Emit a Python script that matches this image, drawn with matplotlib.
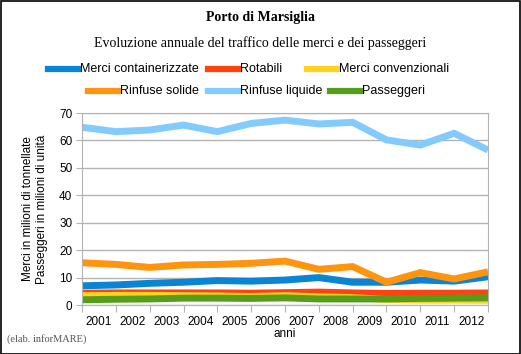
import matplotlib
matplotlib.use("Agg")
import matplotlib.pyplot as plt
from matplotlib.lines import Line2D
from matplotlib.patches import Rectangle

# Dati (13 punti, etichette 2001-2012 fra le tacche)
anni = ["2001", "2002", "2003", "2004", "2005", "2006",
        "2007", "2008", "2009", "2010", "2011", "2012"]
container = [7.0, 7.3, 7.9, 8.3, 8.9, 8.7, 9.1, 10.0, 8.3, 8.3, 9.1, 8.7, 10.3]
rotabili = [4.3, 4.4, 4.4, 4.4, 4.4, 4.3, 4.5, 4.7, 4.4, 4.2, 4.3, 4.3, 4.4]
convenzionali = [3.4, 3.5, 3.5, 3.4, 3.3, 3.1, 3.4, 3.0, 2.7, 2.0, 1.8, 1.8, 1.7]
solide = [15.4, 14.8, 13.7, 14.6, 14.8, 15.2, 16.0, 13.0, 14.0, 8.3, 11.8, 9.5, 12.1]
liquide = [64.8, 63.2, 63.8, 65.6, 63.2, 66.2, 67.4, 66.0, 66.6, 60.2, 58.3, 62.6, 56.5]
passeggeri = [1.9, 2.1, 2.2, 2.5, 2.5, 2.4, 2.6, 2.2, 2.2, 2.2, 2.4, 2.5, 2.6]

serie = [
    ("Merci containerizzate", container, "#0a84d4"),
    ("Rotabili", rotabili, "#ff420e"),
    ("Merci convenzionali", convenzionali, "#ffd320"),
    ("Rinfuse solide", solide, "#ff950e"),
    ("Rinfuse liquide", liquide, "#83caff"),
    ("Passeggeri", passeggeri, "#579d1c"),
]

plt.rcParams['font.family'] = ['Liberation Sans', 'DejaVu Sans']

fig = plt.figure(figsize=(5.21, 3.54), dpi=100)
ax = fig.add_axes([82 / 521, 1 - 305 / 354, 406 / 521, 192 / 354])

x = list(range(len(container)))
for nome, valori, colore in serie:
    ax.plot(x, valori, color=colore, linewidth=5, solid_joinstyle='miter',
            solid_capstyle='butt')

ax.set_xlim(0, 12)
ax.set_ylim(0, 70)
ax.set_yticks(range(0, 71, 10))
ax.set_xticks(range(13))
ax.set_xticklabels([])
ax.set_xticks([i + 0.5 for i in range(12)], minor=True)
ax.set_xticklabels(anni, minor=True)
ax.tick_params(axis='x', which='minor', length=0, pad=8, labelsize=8.5)
ax.tick_params(axis='x', which='major', length=5, color='#b3b3b3')
ax.tick_params(axis='y', length=4, color='#b3b3b3', labelsize=8.5, pad=3)
ax.grid(axis='y', color='#b3b3b3', linewidth=1)
ax.set_axisbelow(True)
for s in ax.spines.values():
    s.set_color('#b3b3b3')

ax.set_xlabel("anni", fontsize=8.5, labelpad=0)
ax.set_ylabel("Merci in milioni di tonnellate\nPasseggeri in milioni di unità",
              fontsize=8.5, labelpad=8, linespacing=1.25)

fig.text(0.5, 1 - 17 / 354, "Porto di Marsiglia", ha='center', va='center',
         family='Liberation Serif', fontweight='bold', fontsize=10)
fig.text(0.5, 1 - 43 / 354, "Evoluzione annuale del traffico delle merci e dei passeggeri",
         ha='center', va='center', family='Liberation Serif', fontsize=10)
fig.text(7 / 521, 1 - 339 / 354, "(elab. inforMARE)", ha='left', va='center',
         family='Liberation Serif', fontsize=7.5, color='#555555')

# legenda manuale
pos = [(48, 69), (208, 69), (307, 69), (88, 91), (208, 91), (330, 91)]
for (nome, valori, colore), (px, py) in zip(serie, pos):
    yy = 1 - py / 354
    fig.add_artist(Line2D([px / 521, (px + 30) / 521], [yy, yy], color=colore,
                          linewidth=4.5, transform=fig.transFigure))
    fig.text((px + 32) / 521, yy, nome, ha='left', va='center', fontsize=9)

fig.add_artist(Rectangle((0.001, 0.001), 0.997, 0.997, fill=False, edgecolor='black',
                         linewidth=1.2, transform=fig.transFigure))

fig.savefig("out.png", dpi=100)
